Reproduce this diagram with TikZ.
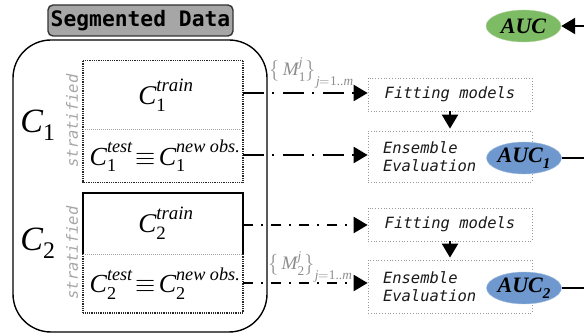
\documentclass[tikz,border=0pt]{standalone}
\usepackage{amsmath}
\usepackage{fontspec}
\usepackage{unicode-math}
\setmonofont{DejaVu Sans Mono}
\newfontfamily\aucfont{Liberation Serif}
\usetikzlibrary{arrows.meta,shapes.geometric,calc}
\definecolor{aucgreen}{RGB}{125,187,100}
\definecolor{aucblue}{RGB}{110,152,206}
\definecolor{titlegray}{RGB}{166,166,166}
\newcommand\Cterm[2]{\text{\itshape C}_{\text{#1}}^{\text{\itshape #2}}}
\newcommand\Mset[1]{\bigl\{\,\text{\itshape M}_{\text{#1}}^{\text{\itshape j}}\bigr\}_{\text{\itshape j}=\text{1..\itshape m}}}
\tikzset{
  darkdots/.style={draw=black!85, line width=1.3pt, dash pattern=on 1pt off 0.8pt},
  graydiv/.style={draw=black!35, line width=0.8pt, dash pattern=on 1pt off 1pt},
  procbox/.style={draw=black!40, line width=0.7pt, dash pattern=on 1pt off 1.8pt, inner sep=0pt, font=\fontsize{15.5}{18}\selectfont\ttfamily\itshape, text=black!90},
  cellbox/.style={inner sep=0pt, minimum width=160pt, font=\aucfont\fontsize{27}{27}\selectfont},
  tip/.style={-{Triangle[length=14pt,width=16pt]}},
  connA/.style={tip, line width=2.2pt, dash pattern=on 21pt off 8pt on 2pt off 9pt},
  connB/.style={tip, line width=2.2pt, dash pattern=on 10pt off 8pt on 2pt off 8pt},
  aucnode/.style={ellipse, inner sep=0pt, minimum width=75pt, minimum height=32pt, font=\aucfont\bfseries\itshape\fontsize{22}{22}\selectfont},
  mlabel/.style={text=black!45, inner sep=0pt, font=\aucfont\fontsize{19}{19}\selectfont},
  strat/.style={rotate=90, text=black!35, font=\fontsize{15.5}{15.5}\selectfont\ttfamily\itshape},
}
\begin{document}
\begin{tikzpicture}[x=1pt,y=-1pt]
\useasboundingbox (0,0) rectangle (584,336);
% outer rounded container and title
\node (seg) [draw, line width=1.4pt, rounded corners=38pt, minimum width=254pt, minimum height=292pt, inner sep=0pt] at (140,186) {};
\node (title) [draw=black!80, line width=1.4pt, fill=titlegray, rounded corners=5pt, minimum width=185pt, minimum height=31pt, inner sep=0pt, font=\fontsize{21.3}{21.3}\selectfont\ttfamily\bfseries] at (140.5,20.5) {Segmented Data};
% C1 cells
\node (c1train) [cellbox, minimum height=69pt] at (166,95.5) {$\Cterm{1}{train}$};
\node (c1test) [cellbox, minimum height=52pt, font=\aucfont\fontsize{26}{26}\selectfont] at (165,156) {$\Cterm{1}{test}\!\equiv\!\Cterm{1}{new obs.}$};
\draw[darkdots] (c1train.north west -| 83,0) rectangle (c1test.south east -| 243,0);
\draw[graydiv] (c1test.north west -| 83,0) -- (c1test.north east -| 243,0);
% C2 cells
\node (c2train) [cellbox, minimum height=61pt] at (166,223.5) {$\Cterm{2}{train}$};
\node (c2test) [cellbox, minimum height=59pt, font=\aucfont\fontsize{26}{26}\selectfont] at (165,283.5) {$\Cterm{2}{test}\!\equiv\!\Cterm{2}{new obs.}$};
\coordinate (b2tl) at (83,193);
\coordinate (b2tr) at (243,193);
\coordinate (b2ml) at (83,254);
\coordinate (b2mr) at (243,254);
\coordinate (b2bl) at (83,313);
\coordinate (b2br) at (243,313);
\draw[darkdots] (b2ml) -- (b2bl) -- (b2br) -- (b2mr);
\draw[line width=1.4pt] (b2ml) -- (b2tl) -- (b2tr) -- (b2mr);
\draw[graydiv] (b2ml) -- (b2mr);
% side labels
\node (c1lab) [font=\aucfont\fontsize{34}{34}\selectfont] at (38,125) {$\Cterm{1}{}$};
\node (c2lab) [font=\aucfont\fontsize{34}{34}\selectfont] at (38,243) {$\Cterm{2}{}$};
\node (s1) [strat] at (72,121) {stratified};
\node (s2) [strat] at (72,253) {stratified};
% process boxes
\node (fit1) [procbox, minimum width=164pt, minimum height=33pt] at (450,94.5) {Fitting models};
\node (ens1) [procbox, minimum width=164pt, minimum height=51pt, text width=134pt, align=left] at (450,156.5) {Ensemble\\Evaluation};
\node (fit2) [procbox, minimum width=164pt, minimum height=33pt] at (450,224.5) {Fitting models};
\node (ens2) [procbox, minimum width=164pt, minimum height=53pt, text width=134pt, align=left] at (450,286.5) {Ensemble\\Evaluation};
% AUC nodes
\node (auc) [aucnode, fill=aucgreen, draw=aucgreen!60] at (523.5,26) {AUC};
\node (auc1) [aucnode, fill=aucblue, draw=aucblue!60] at (524,158) {AUC\raisebox{-0.28em}{\fontsize{15}{15}\selectfont 1}};
\node (auc2) [aucnode, fill=aucblue, draw=aucblue!60] at (524,288) {AUC\raisebox{-0.28em}{\fontsize{15}{15}\selectfont 2}};
\coordinate (r0) at (584,26);
\coordinate (r1) at (584,158);
\coordinate (r2) at (584,288);
% connectors
\draw[connA] (b2tr |- 0,93) -- (fit1.west |- 0,93)
  node[mlabel, pos=0.55, above, yshift=4pt] {$\Mset{1}$};
\draw[connA] (b2tr |- 0,155) -- (ens1.west |- 0,155);
\draw[connB] (b2tr |- 0,225) -- (fit2.west |- 0,225);
\draw[connB] (b2tr |- 0,283) -- (ens2.west |- 0,283)
  node[mlabel, pos=0.54, above, yshift=0pt] {$\Mset{2}$};
\draw[tip, line width=2.2pt, shorten >=2pt] (fit1.south) -- (ens1.north);
\draw[tip, line width=2.2pt, shorten >=2pt] (fit2.south) -- (ens2.north);
\draw[line width=2.2pt] (auc1.east) -- (r1);
\draw[line width=2.2pt] (auc2.east) -- (r2);
\draw[tip, line width=2.2pt] (r0) -- (auc.east);
\end{tikzpicture}
\end{document}
